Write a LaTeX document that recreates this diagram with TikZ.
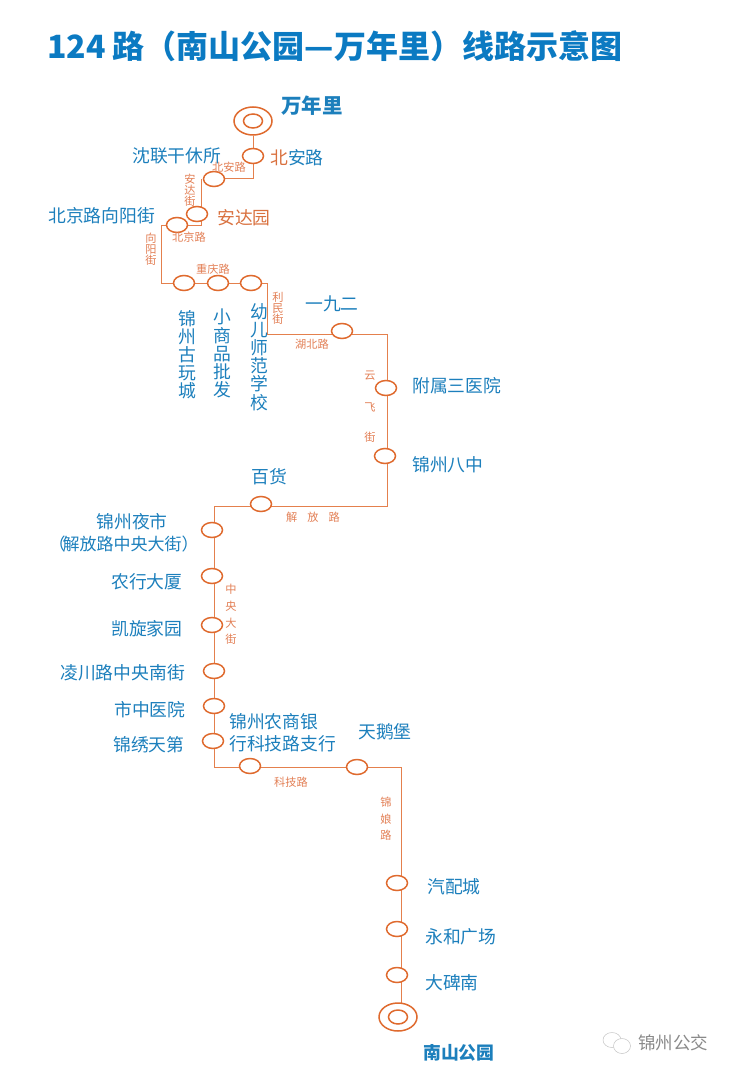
\documentclass[tikz,border=0pt]{standalone}
\usepackage{fontspec}
\setmainfont{Noto Sans CJK SC}
\usetikzlibrary{shapes.geometric,backgrounds}
\definecolor{routeC}{HTML}{DF6A2E}
\definecolor{nameC}{HTML}{1C7FBC}
\definecolor{roadC}{HTML}{E27F55}
\definecolor{titleC}{HTML}{0B7AC2}
\definecolor{markC}{HTML}{C4C4C4}
\definecolor{wmC}{HTML}{8A8A8A}
\definecolor{warmC}{HTML}{D9713F}
\newcommand{\fs}[1]{\fontsize{#1pt}{#1pt}\selectfont}
\tikzset{
  x=1pt,y=-1pt,
  stopnode/.style={ellipse,draw=routeC,line width=1.5pt,fill=white,minimum width=21pt,minimum height=15pt,inner sep=0pt},
  terminal/.style={ellipse,draw=routeC,line width=1.5pt,fill=white,minimum width=38pt,minimum height=28pt,inner sep=0pt},
  innerring/.style={ellipse,draw=routeC,line width=1.5pt,fill=white,minimum width=19pt,minimum height=14pt,inner sep=0pt},
  route/.style={draw=routeC!85!white,line width=1pt,line join=miter},
  stname/.style={text=nameC,font=\fs{17.8},inner sep=0pt,align=left},
  vname/.style={text=nameC,font=\fs{17.8},inner sep=0pt,align=center,text width=20pt},
  road/.style={text=roadC,font=\fs{11.2},inner sep=0pt,align=center},
}
\begin{document}
\begin{tikzpicture}
\useasboundingbox (0,0) rectangle (732,1075);
\node[anchor=west,text=titleC,font=\fs{32}\bfseries,inner sep=0pt] (title) at (47,46) {124 路（南山公园—万年里）线路示意图};
% stations
\node[terminal] (wnl) at (253,121) {};
\node[innerring] (wnlin) at (253,121) {};
\node[stopnode] (ba) at (253,156) {};
\node[stopnode] (sl) at (214,179) {};
\node[stopnode] (ady) at (197,214) {};
\node[stopnode] (bj) at (177,225) {};
\node[stopnode] (gw) at (184,283) {};
\node[stopnode] (xs) at (218,283) {};
\node[stopnode] (ye) at (251,283) {};
\node[stopnode] (yje) at (342,331) {};
\node[stopnode] (fs) at (386,388) {};
\node[stopnode] (bz) at (385,456) {};
\node[stopnode] (bh) at (261,504) {};
\node[stopnode] (ys) at (212,530) {};
\node[stopnode] (nh) at (212,576) {};
\node[stopnode] (kx) at (212,625) {};
\node[stopnode] (lc) at (214,671) {};
\node[stopnode] (sz) at (214,706) {};
\node[stopnode] (jx) at (213,741) {};
\node[stopnode] (ns) at (250,766) {};
\node[stopnode] (te) at (357,767) {};
\node[stopnode] (qp) at (397,883) {};
\node[stopnode] (yh) at (397,929) {};
\node[stopnode] (db) at (397,975) {};
\node[terminal] (nsgy) at (398,1017) {};
\node[innerring] (nsin) at (398,1017) {};
% corners
\coordinate (c1) at (253,179);
\coordinate (c2) at (201,179);
\coordinate (c3) at (201,226);
\coordinate (c4) at (161,226);
\coordinate (c5) at (161,283);
\coordinate (c6) at (267,283);
\coordinate (c7) at (267,334);
\coordinate (c8) at (387,334);
\coordinate (c9) at (387,506);
\coordinate (c10) at (214,506);
\coordinate (c11) at (214,767);
\coordinate (c12) at (401,767);
\begin{pgfonlayer}{background}
\draw[route] (wnl) -- (ba) -- (c1) -- (sl);
\draw[route] (c2) -- (c3) -- (c4) -- (c5) -- (gw) -- (xs) -- (ye) -- (c6) -- (c7) -- (c8) -- (c9) -- (c10) -- (c11) -- (c12) -- (c12 |- nsgy);
\end{pgfonlayer}
% names
\node[stname,font=\fs{20.5}\bfseries,anchor=west] (t1) at (281,106) {万年里};
\node[stname,anchor=west] (t2) at (270,158) {\textcolor{warmC}{北}安路};
\node[stname,anchor=west] (t3) at (132,156) {沈联干休所};
\node[stname,anchor=west,text=warmC] (t4) at (217,218) {安达园};
\node[stname,anchor=west] (t5) at (48,216) {北京路向阳街};
\node[vname,anchor=north] (t6) at (187,310) {锦\\[.4pt]州\\[.4pt]古\\[.4pt]玩\\[.4pt]城};
\node[vname,anchor=north] (t7) at (222,309) {小\\[.4pt]商\\[.4pt]品\\[.4pt]批\\[.4pt]发};
\node[vname,anchor=north] (t8) at (259,303) {幼\\[.4pt]儿\\[.4pt]师\\[.4pt]范\\[.4pt]学\\[.4pt]校};
\node[stname,anchor=west] (t9) at (305,304) {一九二};
\node[stname,anchor=west] (t10) at (412,386) {附属三医院};
\node[stname,anchor=west] (t11) at (412,465) {锦州八中};
\node[stname,anchor=west] (t12) at (251,477) {百货};
\node[stname,align=center,anchor=center] (t13) at (123.5,533) {\hspace*{17pt}锦州夜市\\[4pt]{\fs{17}（\hspace{-3pt}解放路中央大街）}};
\node[stname,anchor=west] (t14) at (111,582) {农行大厦};
\node[stname,anchor=west] (t15) at (111,629) {凯旋家园};
\node[stname,anchor=west] (t16) at (60,673) {凌川路中央南街};
\node[stname,anchor=west] (t17) at (114,710) {市中医院};
\node[stname,anchor=west] (t18) at (113,745) {锦绣天第};
\node[stname,anchor=west] (t19) at (229,733) {锦州农商银\\[4pt]行科技路支行};
\node[stname,anchor=west] (t20) at (358,732) {天鹅堡};
\node[stname,anchor=west] (t21) at (427,887) {汽配城};
\node[stname,anchor=west] (t22) at (425,937) {永和广场};
\node[stname,anchor=west] (t23) at (425,983) {大碑南};
\node[stname,font=\fs{17.8}\bfseries,anchor=west] (t24) at (423,1053) {南山公园};
% road labels
\node[road] (r1) at (229,167) {北安路};
\node[road] (r2) at (190,190) {安\\达\\街};
\node[road] (r3) at (189,237) {北京路};
\node[road] (r4) at (151,249) {向\\阳\\街};
\node[road] (r5) at (213,269) {重庆路};
\node[road] (r6) at (278,308) {利\\民\\街};
\node[road] (r7) at (312,344) {湖北路};
\node[road] (r8a) at (370,376) {云};
\node[road] (r8b) at (370,407) {飞};
\node[road] (r8c) at (370,437) {街};
\node[road] (r9) at (313,517) {解\hspace{10pt}放\hspace{10pt}路};
\node[road] (r10a) at (231,589) {中};
\node[road] (r10b) at (231,606) {央};
\node[road] (r10c) at (231,623) {大};
\node[road] (r10d) at (231,639) {街};
\node[road] (r11) at (291,782) {科技路};
\node[road] (r12a) at (386,802) {锦};
\node[road] (r12b) at (386,819) {娘};
\node[road] (r12c) at (386,835) {路};
% watermark
\node[ellipse,draw=markC,line width=.5pt,minimum width=18pt,minimum height=15pt,inner sep=0pt] (wm1) at (612,1040) {};
\node[ellipse,draw=markC,line width=.5pt,fill=white,minimum width=17pt,minimum height=15pt,inner sep=0pt] (wm2) at (622,1046) {};
\node[anchor=west,text=wmC,font=\fs{17.5},inner sep=0pt] (wmt) at (638,1043) {锦州公交};
\end{tikzpicture}
\end{document}
